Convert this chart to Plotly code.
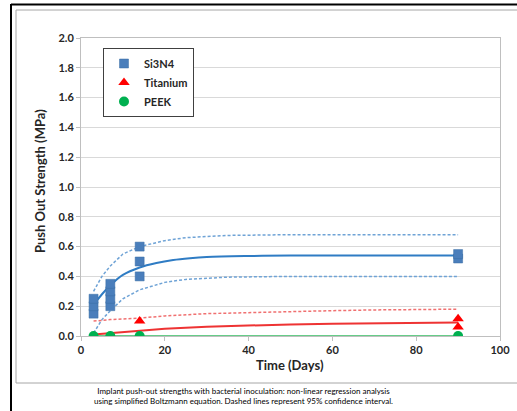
import plotly.graph_objects as go

# Measured data points
si_days = [3, 3, 3, 7, 7, 7, 7, 14, 14, 14, 90, 90]
si_vals = [0.15, 0.20, 0.25, 0.20, 0.25, 0.30, 0.35, 0.40, 0.50, 0.60, 0.52, 0.55]
ti_days = [3, 7, 14, 14, 90, 90, 90]
ti_vals = [0.0, 0.0, 0.0, 0.10, 0.0, 0.06, 0.115]
pk_days = [3, 7, 14, 90]
pk_vals = [0.0, 0.0, 0.0, 0.0]

# Fitted curves
si_fit_days = [3, 5, 7, 10, 14, 18, 22, 26, 30, 40, 50, 70, 90]
si_fit = [0.21, 0.28, 0.34, 0.41, 0.46, 0.49, 0.51, 0.522, 0.53, 0.537, 0.54, 0.54, 0.54]
si_up_days = [3, 5, 7, 10, 14, 20, 25, 35, 50, 70, 90]
si_up = [0.30, 0.40, 0.47, 0.55, 0.60, 0.64, 0.66, 0.675, 0.68, 0.68, 0.68]
si_lo = [0.02, 0.11, 0.17, 0.25, 0.31, 0.36, 0.38, 0.395, 0.40, 0.40, 0.40]
ti_fit_days = [3, 7, 14, 20, 30, 40, 50, 60, 70, 80, 90]
ti_fit = [0.01, 0.02, 0.035, 0.048, 0.062, 0.072, 0.078, 0.083, 0.087, 0.089, 0.09]
ti_up = [0.10, 0.11, 0.12, 0.135, 0.15, 0.158, 0.165, 0.17, 0.175, 0.178, 0.18]
pk_fit_days = [3, 90]
pk_fit = [0.0, 0.0]

BLUE = "#4a7ebb"
BLUE_LINE = "#2f7cc4"
BLUE_DASH = "#6fa3d6"
RED = "#ff0000"
RED_LINE = "#ee3333"
RED_DASH = "#f07070"
GREEN = "#00b050"
GREEN_LINE = "#66cc88"

fig = go.Figure()
dash = "3px,2px"
fig.add_trace(go.Scatter(x=si_up_days, y=si_up, mode="lines", line=dict(color=BLUE_DASH, width=1.5, dash=dash), showlegend=False))
fig.add_trace(go.Scatter(x=si_up_days, y=si_lo, mode="lines", line=dict(color=BLUE_DASH, width=1.5, dash=dash), showlegend=False))
fig.add_trace(go.Scatter(x=si_fit_days, y=si_fit, mode="lines", line=dict(color=BLUE_LINE, width=2, shape="spline"), showlegend=False))
fig.add_trace(go.Scatter(x=ti_fit_days, y=ti_up, mode="lines", line=dict(color=RED_DASH, width=1.5, dash=dash), showlegend=False))
fig.add_trace(go.Scatter(x=ti_fit_days, y=ti_fit, mode="lines", line=dict(color=RED_LINE, width=2), showlegend=False))
fig.add_trace(go.Scatter(x=pk_fit_days, y=pk_fit, mode="lines", line=dict(color=GREEN_LINE, width=2), showlegend=False))

fig.add_trace(go.Scatter(x=ti_days, y=ti_vals, mode="markers", name="Titanium", legendrank=2,
                         marker=dict(symbol="triangle-up", size=10, color=RED)))
fig.add_trace(go.Scatter(x=pk_days, y=pk_vals, mode="markers", name="PEEK", legendrank=3,
                         marker=dict(symbol="circle", size=10, color=GREEN)))
fig.add_trace(go.Scatter(x=si_days, y=si_vals, mode="markers", name="Si3N4", legendrank=1,
                         marker=dict(symbol="square", size=9, color=BLUE, line=dict(color="#3a6ea5", width=0.5))))

FONT = "Lato"
TXT = "#262626"

def px2x(px):
    return (px - 81) / 419.0

def px2y(py):
    return (336 - py) / 298.0

def hline(x0, x1, y, color, width):
    return dict(type="line", xref="paper", yref="paper", x0=px2x(x0), x1=px2x(x1), y0=px2y(y), y1=px2y(y),
                line=dict(color=color, width=width))

def vline(x, y0, y1, color, width):
    return dict(type="line", xref="paper", yref="paper", x0=px2x(x), x1=px2x(x), y0=px2y(y0), y1=px2y(y1),
                line=dict(color=color, width=width))

shapes = [
    hline(11, 530, 4.5, "black", 2),
    vline(11, 4, 420, "black", 2),
    hline(16, 530, 10, "#a6a6a6", 1),
    hline(16, 530, 383, "#a6a6a6", 1),
    vline(16, 10, 383, "#a6a6a6", 1),
]

annotations = [
    dict(text="Time (Days)", xref="paper", yref="paper", x=px2x(290), y=px2y(365), showarrow=False,
         font=dict(family=FONT, size=13, color=TXT, weight="bold"), xanchor="center", yanchor="middle"),
    dict(text="Push Out Strength (MPa)", xref="paper", yref="paper", x=px2x(40), y=px2y(181), showarrow=False,
         textangle=-90, font=dict(family=FONT, size=13, color=TXT, weight="bold"), xanchor="center", yanchor="middle"),
    dict(text="Implant push-out strengths with bacterial inoculation: non-linear regression analysis<br>"
              "using simplified Boltzmann equation. Dashed lines represent 95% confidence interval.",
         xref="paper", yref="paper", x=px2x(243), y=px2y(396), showarrow=False,
         font=dict(family=FONT, size=8, color="black"), xanchor="center", yanchor="middle", align="center"),
]

fig.update_layout(
    template=None,
    width=517, height=411, autosize=False,
    margin=dict(l=81, r=17, t=38, b=75, autoexpand=False),
    paper_bgcolor="white", plot_bgcolor="white",
    shapes=shapes, annotations=annotations,
    legend=dict(x=px2x(103), y=px2y(48), xanchor="left", yanchor="top",
                bordercolor="#404040", borderwidth=1, bgcolor="white",
                font=dict(family=FONT, size=11, color=TXT, weight="bold"),
                itemwidth=30),
    xaxis=dict(range=[0, 100], dtick=20, showgrid=False, zeroline=False, automargin=False,
               showline=True, linecolor="#bfbfbf", mirror=True, linewidth=1,
               ticks="outside", ticklen=4, tickcolor="#bfbfbf",
               tickfont=dict(family=FONT, size=11, color=TXT, weight="bold")),
    yaxis=dict(range=[0, 2.0], dtick=0.2, tickformat=".1f", showgrid=True, gridcolor="#d9d9d9",
               zeroline=False, automargin=False, showline=True, linecolor="#bfbfbf", mirror=True, linewidth=1,
               ticks="outside", ticklen=4, tickcolor="#bfbfbf",
               tickfont=dict(family=FONT, size=11, color=TXT, weight="bold")),
)

fig.write_html("out.html", config={"displayModeBar": False, "responsive": False},
               post_script="document.body.style.margin='0';document.body.style.overflow='hidden';")
